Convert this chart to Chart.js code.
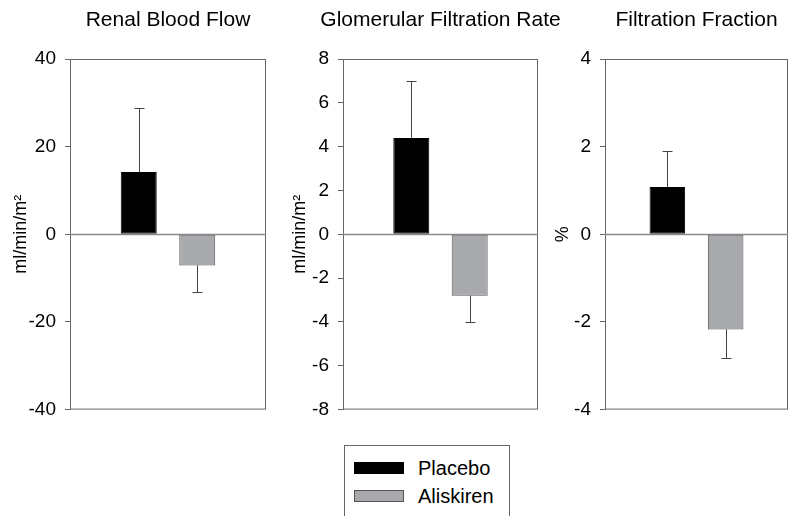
<!DOCTYPE html>
<html>
<head>
<meta charset="utf-8">
<script src="https://cdn.jsdelivr.net/npm/chart.js@4"></script>
<style>
    body { margin: 0; background: #fff; width: 792px; height: 516px; overflow: hidden; position: relative; font-family: 'Liberation Sans', Arial, sans-serif; }
    canvas { position: absolute; top: 0; left: 0; }
    #legend { position: absolute; left: 344px; top: 445px; width: 164px; height: 90px; border: 1px solid #666; }
    .row { position: absolute; left: 9px; height: 28px; display: flex; align-items: center; font-size: 20px; color: #000; }
    .swatch { width: 48px; height: 10px; margin-right: 14px; }
</style>
</head>
<body>
<canvas id="c0" width="792" height="430"></canvas>
<canvas id="c1" width="792" height="430"></canvas>
<canvas id="c2" width="792" height="430"></canvas>
<div id="legend"></div>
<script>
// Data
const panelTitles = ['Renal Blood Flow', 'Glomerular Filtration Rate', 'Filtration Fraction'];
const axisLabels = ['ml/min/m²', 'ml/min/m²', '%'];
const groups = ['Placebo', 'Aliskiren'];
const placeboMeans = [14.2, 4.4, 1.08];
const aliskirenMeans = [-7.1, -2.8, -2.17];
const placeboErr = [14.6, 2.6, 0.81];
const aliskirenErr = [6.0, 1.2, 0.66];
const yMin = [-40, -8, -4];
const yMax = [40, 8, 4];
const yStep = [20, 2, 2];

// Layout of each panel on the shared 792px width (pixel sizes, kept apart from the data)
const panelLayout = [
    { padLeft: 0,   axisWidth: 70, padRight: 526, titlePad: 10, catPct: 0.597, barPct: 0.615 },
    { padLeft: 270, axisWidth: 73, padRight: 254, titlePad: 19, catPct: 0.599, barPct: 0.616 },
    { padLeft: 540, axisWidth: 65, padRight: 4,   titlePad: 12, catPct: 0.637, barPct: 0.61 }
];

const FONT = "'Liberation Sans', Arial, sans-serif";
const colors = ['#000000', '#a8aaad'];
const borders = ['#000000', '#555555'];

// Panel title, frame, zero line and one-sided error bars
const framePlugin = {
    id: 'frame',
    afterDatasetsDraw(chart, args, opts) {
        const { ctx, chartArea: a } = chart;
        const y = chart.scales.y;
        ctx.save();
        // title centred over the plot area, allowed to run past it
        ctx.fillStyle = '#000';
        ctx.font = '21px ' + FONT;
        ctx.textAlign = 'center';
        ctx.textBaseline = 'alphabetic';
        ctx.fillText(opts.title, (a.left + a.right) / 2, 26);

        ctx.strokeStyle = '#666';
        ctx.lineWidth = 1;
        ctx.strokeRect(a.left + 0.5, a.top + 0.5, a.right - a.left - 1, a.bottom - a.top - 1);
        const y0 = Math.round(y.getPixelForValue(0)) + 0.5;
        ctx.strokeStyle = '#8a8a8a';
        ctx.lineWidth = 1.5;
        ctx.beginPath();
        ctx.moveTo(a.left, y0);
        ctx.lineTo(a.right, y0);
        ctx.stroke();
        ctx.strokeStyle = '#444';
        ctx.lineWidth = 1;
        chart.data.datasets.forEach((ds, di) => {
            const meta = chart.getDatasetMeta(di);
            meta.data.forEach((bar, i) => {
                const v = ds.data[i];
                const e = ds.errors[i];
                const end = v >= 0 ? v + e : v - e;
                const x = Math.round(bar.x) + 0.5;
                const yA = y.getPixelForValue(v);
                const yB = Math.round(y.getPixelForValue(end)) + 0.5;
                ctx.beginPath();
                ctx.moveTo(x, yA);
                ctx.lineTo(x, yB);
                ctx.moveTo(x - 5, yB);
                ctx.lineTo(x + 5, yB);
                ctx.stroke();
            });
        });
        ctx.restore();
    }
};

function makePanel(i) {
    const L = panelLayout[i];
    const means = [placeboMeans[i], aliskirenMeans[i]];
    const errs = [placeboErr[i], aliskirenErr[i]];
    new Chart(document.getElementById('c' + i), {
        type: 'bar',
        data: {
            labels: [''],
            datasets: groups.map((g, k) => ({
                label: g,
                data: [means[k]],
                errors: [errs[k]],
                backgroundColor: colors[k],
                borderColor: borders[k],
                borderWidth: 1,
                borderSkipped: false,
                categoryPercentage: L.catPct,
                barPercentage: L.barPct
            }))
        },
        options: {
            responsive: false,
            animation: false,
            layout: { padding: { top: 59, left: L.padLeft, right: L.padRight, bottom: 20 } },
            plugins: {
                legend: { display: false },
                tooltip: { enabled: false },
                frame: { title: panelTitles[i] }
            },
            scales: {
                x: { display: false },
                y: {
                    min: yMin[i],
                    max: yMax[i],
                    afterFit: s => { s.width = L.axisWidth; },
                    grid: { drawOnChartArea: false, drawTicks: true, tickLength: 5, color: '#666' },
                    border: { display: true, color: '#666', width: 1 },
                    ticks: {
                        stepSize: yStep[i],
                        color: '#000',
                        padding: 9,
                        font: { family: FONT, size: 19 }
                    },
                    title: {
                        display: true,
                        text: axisLabels[i],
                        color: '#000',
                        font: { family: FONT, size: 18 },
                        padding: { top: L.titlePad, bottom: 0 }
                    }
                }
            }
        },
        plugins: [framePlugin]
    });
}

for (let i = 0; i < panelTitles.length; i++) makePanel(i);

// Legend box
const legend = document.getElementById('legend');
groups.forEach((g, k) => {
    const row = document.createElement('div');
    row.className = 'row';
    row.style.top = (8 + k * 28) + 'px';
    row.innerHTML = `<div class="swatch" style="background:${colors[k]};border:1px solid ${borders[k]}"></div><span>${g}</span>`;
    legend.appendChild(row);
});
</script>
</body>
</html>
